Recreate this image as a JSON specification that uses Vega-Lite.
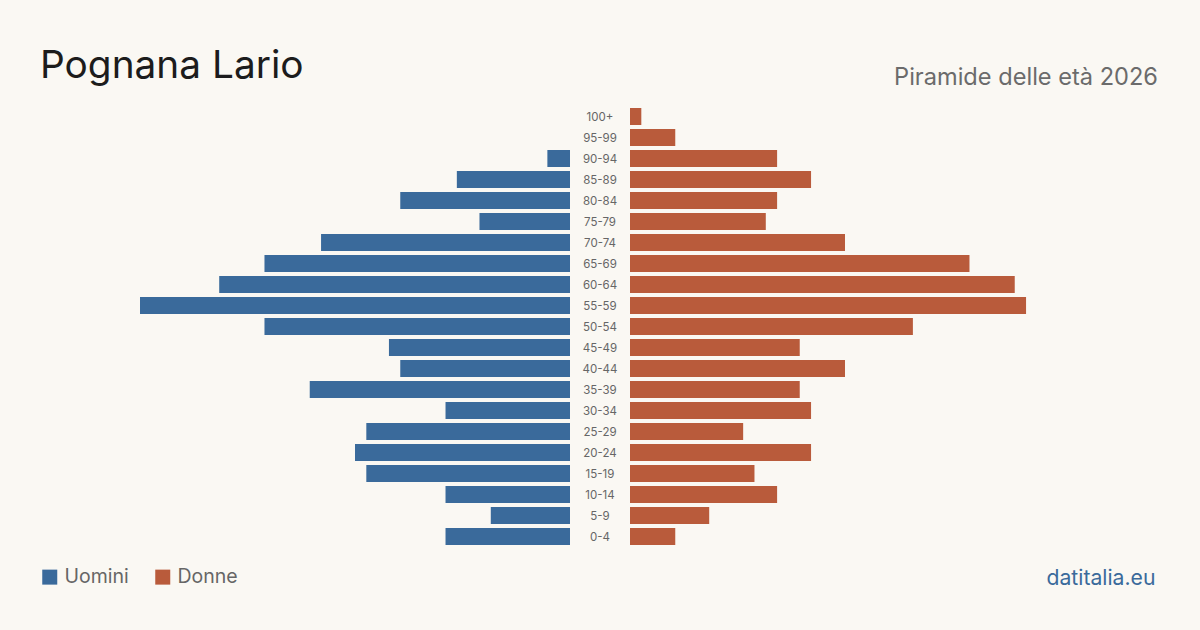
{
  "$schema": "https://vega.github.io/schema/vega-lite/v6.json",
  "background": "#faf8f3",
  "padding": {"left": 40, "top": 47, "right": 50, "bottom": 50},
  "spacing": 0,
  "config": {
    "view": {"stroke": null},
    "font": "Inter",
    "concat": {"spacing": 0}
  },
  "datasets": {
    "pyr": [
      {"age": "100+", "sex": "Uomini", "value": 0}, {"age": "100+", "sex": "Donne", "value": 1},
      {"age": "95-99", "sex": "Uomini", "value": 0}, {"age": "95-99", "sex": "Donne", "value": 4},
      {"age": "90-94", "sex": "Uomini", "value": 2}, {"age": "90-94", "sex": "Donne", "value": 13},
      {"age": "85-89", "sex": "Uomini", "value": 10}, {"age": "85-89", "sex": "Donne", "value": 16},
      {"age": "80-84", "sex": "Uomini", "value": 15}, {"age": "80-84", "sex": "Donne", "value": 13},
      {"age": "75-79", "sex": "Uomini", "value": 8}, {"age": "75-79", "sex": "Donne", "value": 12},
      {"age": "70-74", "sex": "Uomini", "value": 22}, {"age": "70-74", "sex": "Donne", "value": 19},
      {"age": "65-69", "sex": "Uomini", "value": 27}, {"age": "65-69", "sex": "Donne", "value": 30},
      {"age": "60-64", "sex": "Uomini", "value": 31}, {"age": "60-64", "sex": "Donne", "value": 34},
      {"age": "55-59", "sex": "Uomini", "value": 38}, {"age": "55-59", "sex": "Donne", "value": 35},
      {"age": "50-54", "sex": "Uomini", "value": 27}, {"age": "50-54", "sex": "Donne", "value": 25},
      {"age": "45-49", "sex": "Uomini", "value": 16}, {"age": "45-49", "sex": "Donne", "value": 15},
      {"age": "40-44", "sex": "Uomini", "value": 15}, {"age": "40-44", "sex": "Donne", "value": 19},
      {"age": "35-39", "sex": "Uomini", "value": 23}, {"age": "35-39", "sex": "Donne", "value": 15},
      {"age": "30-34", "sex": "Uomini", "value": 11}, {"age": "30-34", "sex": "Donne", "value": 16},
      {"age": "25-29", "sex": "Uomini", "value": 18}, {"age": "25-29", "sex": "Donne", "value": 10},
      {"age": "20-24", "sex": "Uomini", "value": 19}, {"age": "20-24", "sex": "Donne", "value": 16},
      {"age": "15-19", "sex": "Uomini", "value": 18}, {"age": "15-19", "sex": "Donne", "value": 11},
      {"age": "10-14", "sex": "Uomini", "value": 11}, {"age": "10-14", "sex": "Donne", "value": 13},
      {"age": "5-9", "sex": "Uomini", "value": 7}, {"age": "5-9", "sex": "Donne", "value": 7},
      {"age": "0-4", "sex": "Uomini", "value": 11}, {"age": "0-4", "sex": "Donne", "value": 4}
    ]
  },
  "hconcat": [
    {
      "width": 430,
      "height": 441,
      "data": {"name": "pyr"},
      "transform": [{"filter": "datum.sex === 'Uomini'"}],
      "title": {
        "text": "Pognana Lario",
        "anchor": "start",
        "frame": "group",
        "dx": -100,
        "fontSize": 38.8,
        "fontWeight": "normal",
        "color": "#1c1c1c",
        "baseline": "alphabetic",
        "offset": -10.8
      },
      "mark": {"type": "bar"},
      "encoding": {
        "y": {
          "field": "age",
          "type": "nominal",
          "scale": {
            "domain": ["100+", "95-99", "90-94", "85-89", "80-84", "75-79", "70-74", "65-69", "60-64", "55-59", "50-54", "45-49", "40-44", "35-39", "30-34", "25-29", "20-24", "15-19", "10-14", "5-9", "0-4"],
            "paddingInner": 0.19,
            "paddingOuter": 0.095
          },
          "axis": null
        },
        "x": {
          "field": "value",
          "type": "quantitative",
          "scale": {"domain": [0, 38], "reverse": true, "nice": false, "zero": true},
          "axis": null
        },
        "color": {
          "field": "sex",
          "type": "nominal",
          "scale": {"domain": ["Uomini", "Donne"], "range": ["#3a6a9b", "#b95b3b"]},
          "legend": {
            "title": null,
            "orient": "none",
            "legendX": -100,
            "legendY": 461,
            "direction": "horizontal",
            "symbolType": "square",
            "symbolSize": 225,
            "symbolStrokeWidth": 0,
            "symbolOpacity": 1,
            "labelFontSize": 19.5,
            "labelColor": "#666666",
            "labelOffset": 5,
            "columnPadding": 24,
            "padding": 0
          }
        }
      }
    },
    {
      "width": 60,
      "height": 441,
      "data": {"name": "pyr"},
      "transform": [{"filter": "datum.sex === 'Uomini'"}],
      "mark": {"type": "text", "fontSize": 11.5, "color": "#666666", "align": "center", "baseline": "middle", "dy": 1},
      "encoding": {
        "y": {
          "field": "age",
          "type": "nominal",
          "scale": {
            "domain": ["100+", "95-99", "90-94", "85-89", "80-84", "75-79", "70-74", "65-69", "60-64", "55-59", "50-54", "45-49", "40-44", "35-39", "30-34", "25-29", "20-24", "15-19", "10-14", "5-9", "0-4"],
            "paddingInner": 0.19,
            "paddingOuter": 0.095
          },
          "axis": null
        },
        "text": {"field": "age", "type": "nominal"}
      }
    },
    {
      "width": 430,
      "height": 441,
      "data": {"name": "pyr"},
      "transform": [{"filter": "datum.sex === 'Donne'"}],
      "title": {
        "text": "Piramide delle età 2026",
        "anchor": "end",
        "frame": "group",
        "dx": 98,
        "fontSize": 23.6,
        "fontWeight": "normal",
        "color": "#6b6b6b",
        "baseline": "alphabetic",
        "offset": -2.6
      },
      "mark": {"type": "bar"},
      "encoding": {
        "y": {
          "field": "age",
          "type": "nominal",
          "scale": {
            "domain": ["100+", "95-99", "90-94", "85-89", "80-84", "75-79", "70-74", "65-69", "60-64", "55-59", "50-54", "45-49", "40-44", "35-39", "30-34", "25-29", "20-24", "15-19", "10-14", "5-9", "0-4"],
            "paddingInner": 0.19,
            "paddingOuter": 0.095
          },
          "axis": null
        },
        "x": {
          "field": "value",
          "type": "quantitative",
          "scale": {"domain": [0, 38], "nice": false, "zero": true},
          "axis": {
            "orient": "bottom",
            "labels": false,
            "ticks": false,
            "domain": false,
            "grid": false,
            "title": "datitalia.eu",
            "titleX": 525,
            "titleY": 37,
            "titleAlign": "right",
            "titleAnchor": null,
            "titleBaseline": "alphabetic",
            "titleFontSize": 21.2,
            "titleFontWeight": "normal",
            "titleColor": "#3a6a9b"
          }
        },
        "color": {
          "field": "sex",
          "type": "nominal",
          "scale": {"domain": ["Uomini", "Donne"], "range": ["#3a6a9b", "#b95b3b"]}
        }
      }
    }
  ]
}
